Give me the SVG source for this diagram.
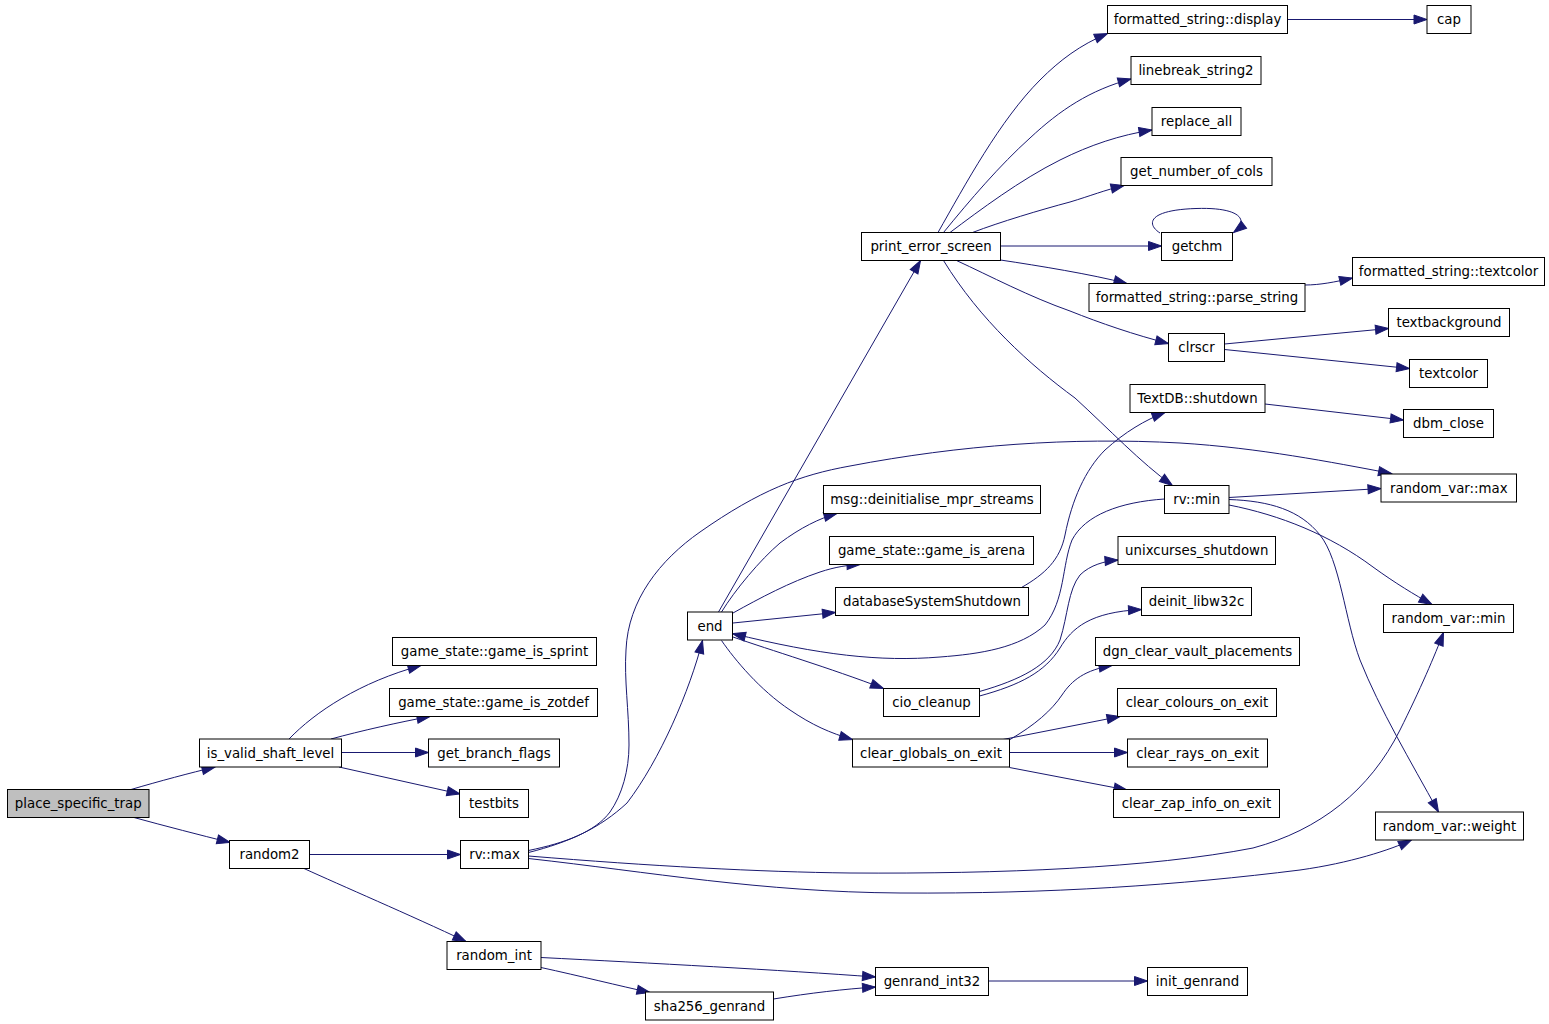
<svg xmlns="http://www.w3.org/2000/svg" width="1549" height="1024" viewBox="0 0 1549 1024">
<defs>
<style>
.node rect{fill:#ffffff;stroke:#000000;stroke-width:1}
.node.root rect{fill:#bfbfbf}
.node text{font-family:"DejaVu Sans","Liberation Sans",sans-serif;font-size:13.33px;fill:#000000;text-anchor:middle}
.edges path{fill:none;stroke:#191970;stroke-width:1;marker-end:url(#arr)}
</style>
<marker id="arr" markerUnits="userSpaceOnUse" markerWidth="14" markerHeight="10" refX="13" refY="4.5" orient="auto" overflow="visible">
<path d="M0,0 L13,4.5 L0,9 Z" fill="#191970" stroke="#191970" stroke-width="1"/>
</marker>
</defs>
<rect x="0" y="0" width="1549" height="1024" fill="#ffffff"/>
<g id="edges" class="edges">
<path d="M131,789.5 C160,781 190,773 215,767"/>
<path d="M134,817.5 C165,826 200,835 230,842.5"/>
<path d="M289,739 C315,712 360,682 421,665.5"/>
<path d="M331,739 C360,731 400,722 430,716.5"/>
<path d="M341.5,752.5 L428.5,752.5"/>
<path d="M339,767 L460,794"/>
<path d="M309.5,854.5 L460.5,854.5"/>
<path d="M304,868.5 C340,885 410,915 466,941.5"/>
<path d="M541,957.5 C650,963 780,970 875.5,977"/>
<path d="M541,967.5 C580,976 620,986 650,992.5"/>
<path d="M773.5,999 C810,993 845,989 875.5,987"/>
<path d="M988.5,981 L1147.5,981"/>
<path d="M528.5,852.5 C570,842 600,828 627,803 C660,760 690,690 702.5,640.5"/>
<path d="M528.5,850.5 C565,843 595,832 610,812 C622,795 629,770 629,745 C629,710 624,680 626,650 C628,600 660,560 700,532 C760,490 800,475 850,466 C960,445 1070,437 1180,443 C1260,448 1330,462 1391.5,473.5"/>
<path d="M528.5,856 C650,866 760,872 850,873 C1000,874 1150,868 1253,848 C1320,830 1370,790 1400,730 C1420,690 1435,655 1443.5,632.5"/>
<path d="M528.5,858.5 C650,872 760,892 900,893 C1050,894 1180,885 1300,870 C1350,863 1390,850 1411.5,840"/>
<path d="M718.5,612 L920.5,260.5"/>
<path d="M721.5,612 C735,590 760,560 780,543 C800,528 820,518 837,513.5"/>
<path d="M733,613 C760,598 790,582 820,572 C835,567 848,565 860,564.5"/>
<path d="M733,623 L835.5,612.5"/>
<path d="M733,637 C770,650 830,668 883.5,688.5"/>
<path d="M1164.5,499 C1120,502 1085,515 1072,540 C1062,565 1065,600 1045,625 C1020,648 980,654 940,657 C880,662 820,655 732.5,633.5"/>
<path d="M721.5,640.5 C735,660 760,690 790,710 C812,725 830,733 852.5,739.5"/>
<path d="M1021.5,587.5 C1045,574 1060,560 1065,535 C1072,500 1085,470 1105,450 C1125,432 1145,420 1165,412.5"/>
<path d="M938,232.5 C965,185 1000,120 1040,80 C1060,60 1080,45 1107.5,33.5"/>
<path d="M943.5,232.5 C970,200 1000,165 1030,138 C1060,110 1090,90 1131,79"/>
<path d="M950,232.5 C980,210 1020,180 1060,160 C1090,145 1120,135 1152,130"/>
<path d="M972.5,232.5 C1000,222 1040,210 1070,202 C1090,196 1105,190 1124,185.5"/>
<path d="M1000.5,246 L1161.5,246"/>
<path d="M1160,233 C1146,224 1148,210 1196,208.5 C1240,207 1250,220 1233.5,232.5"/>
<path d="M1000.5,260 C1040,266 1090,274 1127,283.5"/>
<path d="M956.5,260.5 C990,276 1030,297 1070,311 C1100,323 1135,335 1168.5,343.5"/>
<path d="M943.5,260.5 C980,320 1030,365 1075,398 C1110,430 1140,462 1172.5,485.5"/>
<path d="M1287.5,19.5 L1427,19.5"/>
<path d="M1305,285 C1320,285 1335,282 1352.5,278"/>
<path d="M1224.5,344 L1388.5,328.5"/>
<path d="M1224.5,349.5 L1409.5,368.5"/>
<path d="M1265,404 L1403.5,420"/>
<path d="M1229,497.5 L1381,488.5"/>
<path d="M1229,505 C1280,515 1330,535 1373,567 C1395,583 1415,595 1432,604.5"/>
<path d="M1229,499.5 C1270,501 1300,510 1320,535 C1340,560 1345,620 1360,660 C1380,710 1410,760 1438.5,812"/>
<path d="M979.5,691.5 C1020,680 1050,665 1060,640 C1068,615 1068,590 1080,575 C1090,565 1105,561 1118,560"/>
<path d="M979.5,696 C1020,685 1045,672 1060,648 C1072,628 1090,612 1141.5,609.5"/>
<path d="M1010,739.5 C1035,725 1052,710 1062,695 C1072,680 1085,670 1112,665.5"/>
<path d="M1003,739.5 L1120,716.5"/>
<path d="M1009.5,752.5 L1127.5,752.5"/>
<path d="M1009.5,767.5 L1127,790"/>
</g>
<g id="place_specific_trap" class="node root"><rect x="7.5" y="789.5" width="141.5" height="28"/><text x="78.25" y="808">place_specific_trap</text></g>
<g id="is_valid_shaft_level" class="node"><rect x="199.5" y="739" width="142" height="28"/><text x="270.5" y="757.5">is_valid_shaft_level</text></g>
<g id="random2" class="node"><rect x="229.5" y="840.5" width="80" height="28"/><text x="269.5" y="859">random2</text></g>
<g id="game_is_sprint" class="node"><rect x="392.5" y="637.5" width="204" height="28"/><text x="494.5" y="656">game_state::game_is_sprint</text></g>
<g id="game_is_zotdef" class="node"><rect x="389.5" y="688.5" width="208" height="28"/><text x="493.5" y="707">game_state::game_is_zotdef</text></g>
<g id="get_branch_flags" class="node"><rect x="428.5" y="739" width="131" height="28"/><text x="494" y="757.5">get_branch_flags</text></g>
<g id="testbits" class="node"><rect x="459.5" y="789.5" width="69" height="28"/><text x="494" y="808">testbits</text></g>
<g id="rv_max" class="node"><rect x="460.5" y="840.5" width="68" height="28"/><text x="494.5" y="859">rv::max</text></g>
<g id="random_int" class="node"><rect x="447" y="941.5" width="94" height="28"/><text x="494" y="960">random_int</text></g>
<g id="sha256_genrand" class="node"><rect x="645.5" y="992" width="128" height="28"/><text x="709.5" y="1010.5">sha256_genrand</text></g>
<g id="genrand_int32" class="node"><rect x="875.5" y="967.5" width="113" height="28"/><text x="932" y="986">genrand_int32</text></g>
<g id="init_genrand" class="node"><rect x="1147.5" y="967.5" width="100" height="28"/><text x="1197.5" y="986">init_genrand</text></g>
<g id="end" class="node"><rect x="687.5" y="612" width="45" height="28"/><text x="710" y="630.5">end</text></g>
<g id="print_error_screen" class="node"><rect x="861.5" y="232.5" width="139" height="28"/><text x="931" y="251">print_error_screen</text></g>
<g id="fs_display" class="node"><rect x="1107.5" y="5.5" width="180" height="28"/><text x="1197.5" y="24">formatted_string::display</text></g>
<g id="cap" class="node"><rect x="1427" y="5.5" width="44" height="28"/><text x="1449" y="24">cap</text></g>
<g id="linebreak_string2" class="node"><rect x="1131" y="56.5" width="130" height="28"/><text x="1196" y="75">linebreak_string2</text></g>
<g id="replace_all" class="node"><rect x="1152" y="107.5" width="89" height="28"/><text x="1196.5" y="126">replace_all</text></g>
<g id="get_number_of_cols" class="node"><rect x="1121" y="157.5" width="151" height="28"/><text x="1196.5" y="176">get_number_of_cols</text></g>
<g id="getchm" class="node"><rect x="1161.5" y="232.5" width="71" height="28"/><text x="1197" y="251">getchm</text></g>
<g id="fs_parse_string" class="node"><rect x="1089" y="283.5" width="216" height="28"/><text x="1197" y="302">formatted_string::parse_string</text></g>
<g id="fs_textcolor" class="node"><rect x="1352.5" y="257.5" width="192" height="28"/><text x="1448.5" y="276">formatted_string::textcolor</text></g>
<g id="clrscr" class="node"><rect x="1168.5" y="333.5" width="56" height="28"/><text x="1196.5" y="352">clrscr</text></g>
<g id="textbackground" class="node"><rect x="1388.5" y="308.5" width="121" height="28"/><text x="1449" y="327">textbackground</text></g>
<g id="textcolor" class="node"><rect x="1409.5" y="359.5" width="78" height="28"/><text x="1448.5" y="378">textcolor</text></g>
<g id="TextDB_shutdown" class="node"><rect x="1130" y="384.5" width="135" height="28"/><text x="1197.5" y="403">TextDB::shutdown</text></g>
<g id="dbm_close" class="node"><rect x="1403.5" y="409.5" width="90" height="28"/><text x="1448.5" y="428">dbm_close</text></g>
<g id="random_var_max" class="node"><rect x="1381" y="474" width="135.5" height="28"/><text x="1448.75" y="492.5">random_var::max</text></g>
<g id="rv_min" class="node"><rect x="1164.5" y="485.5" width="64.5" height="28"/><text x="1196.75" y="504">rv::min</text></g>
<g id="msg_deinitialise_mpr_streams" class="node"><rect x="823.5" y="485.5" width="217" height="28"/><text x="932" y="504">msg::deinitialise_mpr_streams</text></g>
<g id="game_is_arena" class="node"><rect x="829.5" y="536.5" width="204" height="28"/><text x="931.5" y="555">game_state::game_is_arena</text></g>
<g id="unixcurses_shutdown" class="node"><rect x="1118" y="536.5" width="157.5" height="28"/><text x="1196.75" y="555">unixcurses_shutdown</text></g>
<g id="databaseSystemShutdown" class="node"><rect x="835.5" y="587.5" width="193" height="28"/><text x="932" y="606">databaseSystemShutdown</text></g>
<g id="deinit_libw32c" class="node"><rect x="1141.5" y="587.5" width="110" height="28"/><text x="1196.5" y="606">deinit_libw32c</text></g>
<g id="random_var_min" class="node"><rect x="1383.5" y="604.5" width="130" height="28"/><text x="1448.5" y="623">random_var::min</text></g>
<g id="dgn_clear_vault_placements" class="node"><rect x="1095.5" y="637.5" width="204" height="28"/><text x="1197.5" y="656">dgn_clear_vault_placements</text></g>
<g id="cio_cleanup" class="node"><rect x="883.5" y="688.5" width="96" height="28"/><text x="931.5" y="707">cio_cleanup</text></g>
<g id="clear_colours_on_exit" class="node"><rect x="1117.5" y="688.5" width="159" height="28"/><text x="1197" y="707">clear_colours_on_exit</text></g>
<g id="clear_globals_on_exit" class="node"><rect x="852.5" y="739" width="157" height="28"/><text x="931" y="757.5">clear_globals_on_exit</text></g>
<g id="clear_rays_on_exit" class="node"><rect x="1127.5" y="739" width="140" height="28"/><text x="1197.5" y="757.5">clear_rays_on_exit</text></g>
<g id="clear_zap_info_on_exit" class="node"><rect x="1113.5" y="789.5" width="166" height="28"/><text x="1196.5" y="808">clear_zap_info_on_exit</text></g>
<g id="random_var_weight" class="node"><rect x="1375.5" y="812" width="148" height="28"/><text x="1449.5" y="830.5">random_var::weight</text></g>
</svg>
